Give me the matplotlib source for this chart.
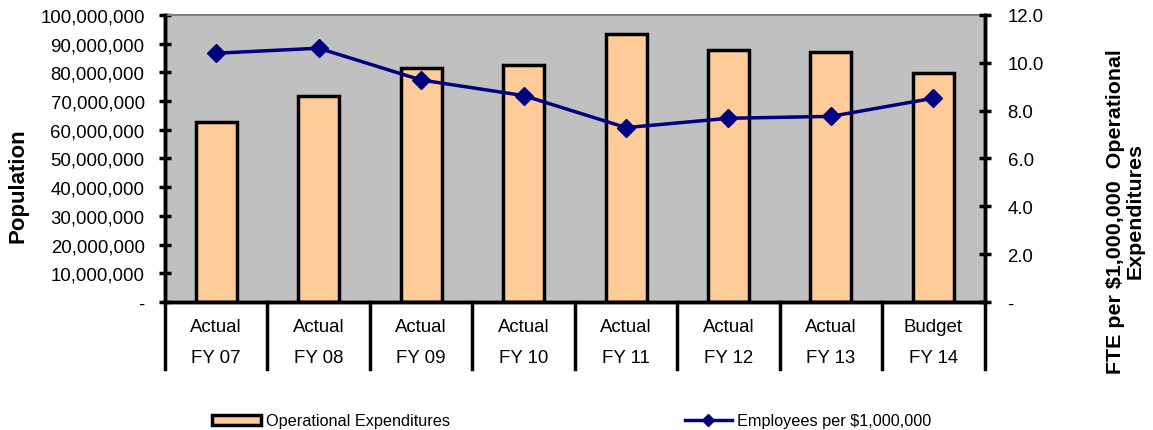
import matplotlib
matplotlib.use("Agg")
import matplotlib.pyplot as plt
import matplotlib.transforms as mtransforms
from matplotlib.ticker import FuncFormatter, MultipleLocator
from matplotlib.patches import Patch
from matplotlib.lines import Line2D

plt.rcParams['font.family'] = ['Liberation Sans', 'DejaVu Sans']

# ---- data ----
cat_top = ["Actual", "Actual", "Actual", "Actual", "Actual", "Actual", "Actual", "Budget"]
cat_bottom = ["FY 07", "FY 08", "FY 09", "FY 10", "FY 11", "FY 12", "FY 13", "FY 14"]
op_expenditures = [62600000, 71900000, 81400000, 82600000, 93300000, 87900000, 87200000, 79800000]
employees_per_million = [10.40, 10.61, 9.28, 8.63, 7.29, 7.68, 7.76, 8.52]

fig = plt.figure(figsize=(11.53, 4.31), dpi=100)
ax = fig.add_axes([0.143, 0.297, 0.711, 0.666])
ax.set_facecolor("#C0C0C0")

x = list(range(len(cat_top)))
ax.bar(x, op_expenditures, width=0.4, color="#FFCC99", edgecolor="black", linewidth=2.5, zorder=2)
ax.set_xlim(-0.5, len(x) - 0.5)
ax.set_ylim(0, 100000000)
ax.yaxis.set_major_locator(MultipleLocator(10000000))
ax.yaxis.set_major_formatter(FuncFormatter(lambda v, p: "-" if v == 0 else f"{int(v):,}"))
ax.tick_params(axis='y', direction='inout', length=9, width=2.5, labelsize=13.4, pad=10)
ax.set_xticks([])
for s in ("left", "bottom", "right"):
    ax.spines[s].set_linewidth(2.5)
ax.spines["top"].set_color("#808080")
ax.spines["top"].set_linewidth(1.5)

ax2 = ax.twinx()
ax2.plot(x, employees_per_million, color="#000080", linewidth=2.5, marker="D", markersize=9, zorder=3)
ax2.set_ylim(0, 12)
ax2.yaxis.set_major_locator(MultipleLocator(2))
ax2.yaxis.set_major_formatter(FuncFormatter(lambda v, p: "-" if v == 0 else f"{v:.1f}"))
ax2.tick_params(axis='y', direction='inout', length=9, width=2.5, labelsize=13.4, pad=12)
for s in ("left", "bottom", "right"):
    ax2.spines[s].set_linewidth(2.5)
ax2.spines["top"].set_visible(False)

# category axis with separators
trans = mtransforms.blended_transform_factory(ax.transData, ax.transAxes)
for b in [i - 0.5 for i in range(len(x) + 1)]:
    ax.plot([b, b], [0, -0.233], transform=trans, color="black", linewidth=2.5, clip_on=False)
for i in x:
    ax.text(i, -0.084, cat_top[i], transform=trans, ha="center", va="center", fontsize=13.4)
    ax.text(i, -0.192, cat_bottom[i], transform=trans, ha="center", va="center", fontsize=13.4)

fig.text(0.016, 0.569, "Population", rotation=90, ha="center", va="center",
         fontsize=16, fontweight="bold")
fig.text(0.976, 0.51, "FTE per $1,000,000  Operational\nExpenditures", rotation=90,
         ha="center", va="center", fontsize=15.4, fontweight="bold", linespacing=1.05)

h1 = Patch(facecolor="#FFCC99", edgecolor="black", linewidth=2.5)
h2 = Line2D([], [], color="#000080", linewidth=2.5, marker="D", markersize=6)
fig.legend(handles=[h1], labels=["Operational Expenditures"], loc="center left",
           bbox_to_anchor=(0.184, 0.021), frameon=False, fontsize=11.7,
           handlelength=3.0, handleheight=0.6, handletextpad=0.3, borderaxespad=0, borderpad=0)
fig.legend(handles=[h2], labels=["Employees per $1,000,000"], loc="center left",
           bbox_to_anchor=(0.594, 0.021), frameon=False, fontsize=11.7,
           handlelength=2.9, handletextpad=0.3, borderaxespad=0, borderpad=0)

fig.savefig("out.png", dpi=100)
